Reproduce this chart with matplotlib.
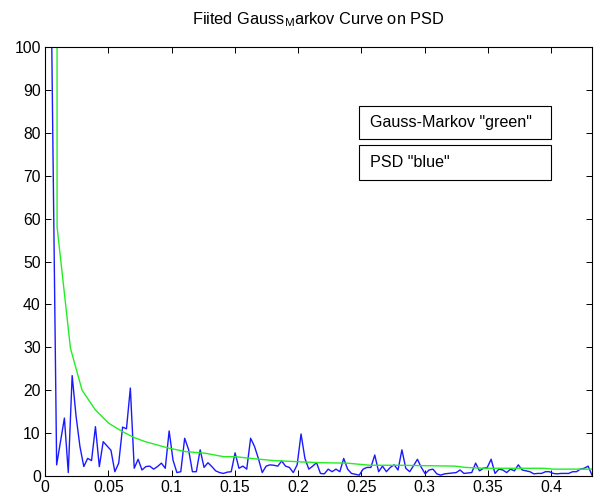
import numpy as np
import matplotlib
matplotlib.use("Agg")
import matplotlib.pyplot as plt
from matplotlib.patches import Rectangle

plt.rcParams['font.family'] = ['Liberation Sans', 'DejaVu Sans']
plt.rcParams['mathtext.fontset'] = 'custom'
plt.rcParams['mathtext.rm'] = 'Liberation Sans'

# PSD estimate (blue), one value per frequency bin
f_max = 0.4322
psd = [240, 160, 80, 2.6, 8, 13.5, 0.8, 23.4, 14, 6.9,
       2.2, 4.1, 3.6, 11.5, 2.2, 8, 7, 6, 1, 3,
       11.4, 11, 20.5, 1.8, 3.9, 1.4, 2.2, 2.3, 1.6, 2.2,
       3.0, 1.8, 10.5, 3.7, 0.8, 1.0, 8.8, 6.2, 1.0, 1.0,
       6.1, 2.0, 3.1, 2.2, 1.2, 0.8, 0.6, 0.9, 1.0, 5.4,
       1.8, 2.3, 1.6, 8.8, 6.9, 4.1, 0.8, 2.3, 2.6, 2.5,
       2.3, 3.5, 2.3, 2.0, 0.8, 2.6, 9.8, 4.1, 1.6, 2.3,
       3.1, 0.6, 0.5, 1.6, 1.0, 1.6, 1.0, 4.1, 1.6, 0.6,
       0.4, 0.2, 1.6, 2.0, 2.0, 4.9, 1.0, 2.3, 1.0, 2.0,
       2.6, 1.4, 6.1, 1.8, 1.0, 2.4, 3.9, 2.0, 0.5, 1.4,
       1.6, 0.5, 0.2, 0.5, 0.6, 0.7, 0.8, 1.4, 0.6, 0.7,
       0.8, 3.0, 1.2, 1.8, 2.0, 3.9, 0.6, 1.6, 1.4, 0.8,
       1.6, 1.2, 2.6, 1.4, 1.2, 1.0, 0.5, 0.6, 0.6, 1.0,
       1.0, 0.6, 0.5, 0.6, 0.6, 0.6, 1.0, 1.0, 1.6, 1.8,
       2.3, 0.2]
freq = np.linspace(0, f_max, len(psd))

# fitted Gauss-Markov curve (green)
gm_f = [0.0, 0.00956, 0.0201, 0.0293, 0.0398, 0.0503, 0.0609, 0.0701, 0.0793,
        0.0977, 0.1109, 0.1267, 0.1412, 0.1504, 0.1661, 0.1806, 0.2017, 0.2175,
        0.2386, 0.2570, 0.2794, 0.3242, 0.3321, 0.3479, 0.3939, 0.4018, 0.4331]
gm_v = [10000, 58, 29.8, 20, 15.4, 12.3, 10.4, 9.0, 8.0,
        6.5, 5.7, 5.3, 4.5, 4.5, 4.0, 3.6, 3.3, 3.1,
        3.0, 2.5, 2.5, 2.3, 2.0, 1.8, 1.8, 1.6, 1.6]

fig = plt.figure(figsize=(5.94, 5.0), dpi=100)
ax = fig.add_axes([45 / 594, 24 / 500, 547 / 594, 429 / 500])

ax.plot(freq, psd, color='#1a1aff', lw=1.0)
ax.plot(gm_f, gm_v, color='#22ee22', lw=1.0)

ax.set_xlim(0, f_max)
ax.set_ylim(0, 100)
ax.set_xticks(np.arange(0, 0.41, 0.05))
ax.set_xticklabels(['0', '0.05', '0.1', '0.15', '0.2', '0.25', '0.3', '0.35', '0.4'])
ax.set_yticks(np.arange(0, 101, 10))
ax.tick_params(direction='in', top=True, right=True, length=4, width=0.7,
               labelsize=11.3, pad=3)
for s in ax.spines.values():
    s.set_linewidth(0.8)

ax.set_title('Fiited Gauss$_\\mathrm{M}$arkov Curve on PSD', fontsize=11.8, pad=16)

# text boxes used as a legend
boxes = [(0.8625, 0.7855, 'Gauss-Markov "green"'),
         (0.7716, 0.690, 'PSD "blue"')]
for top, bot, txt in boxes:
    ax.add_patch(Rectangle((0.574, bot), 0.351, top - bot, transform=ax.transAxes,
                           fill=False, ec='black', lw=0.8))
    ax.text(0.5935, (top + bot) / 2, txt, transform=ax.transAxes,
            va='center', ha='left', fontsize=11.6)

fig.savefig('out.png', dpi=100)
